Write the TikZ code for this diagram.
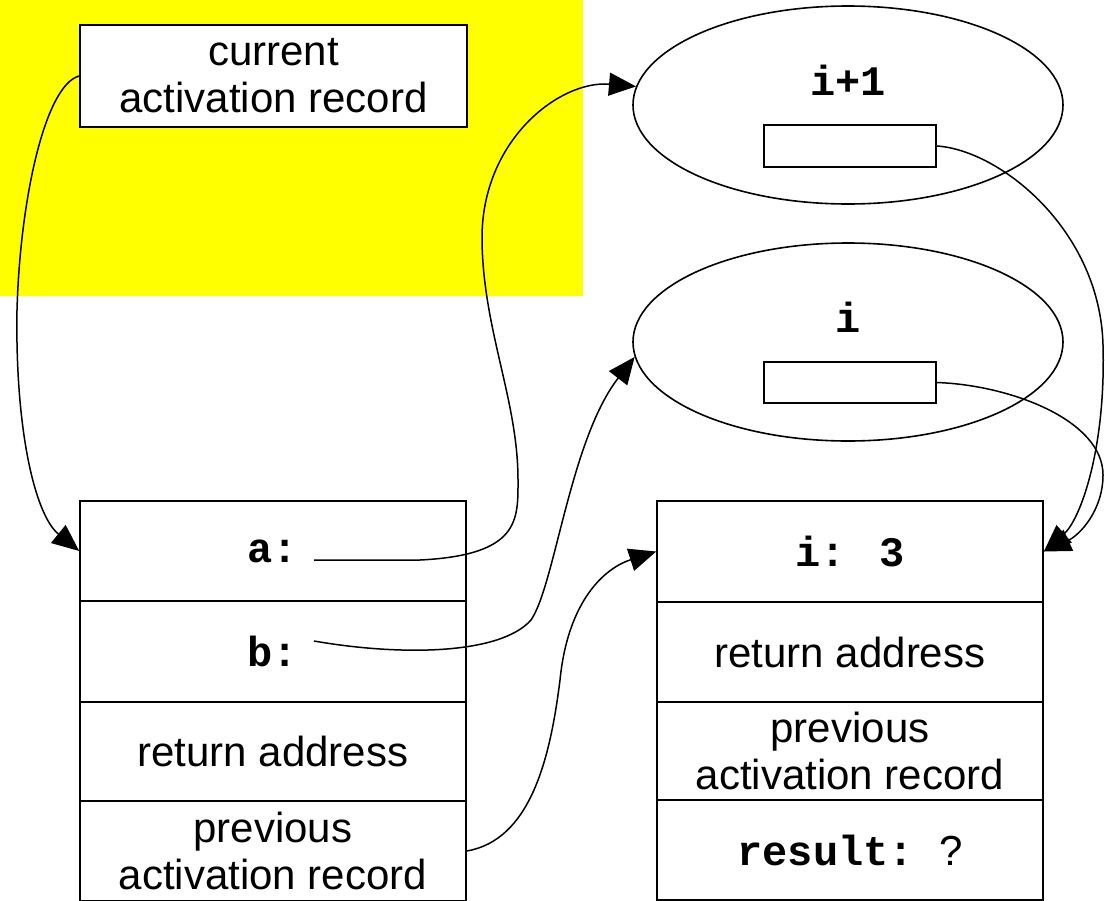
\documentclass[tikz,border=0pt]{standalone}
\usepackage{fontspec}
\setmainfont{Liberation Sans}
\newfontfamily\mono{Liberation Mono}
\usetikzlibrary{arrows.meta,shapes.geometric}
\definecolor{bgyellow}{RGB}{255,255,0}
\tikzset{
  txt/.style={font=\fontsize{42}{47}\selectfont, align=center},
  cell/.style={txt, draw, line width=1.6pt, minimum width=386pt, inner sep=0pt},
  oval/.style={draw, ellipse, line width=1.6pt, minimum width=430pt, minimum height=198pt, inner sep=0pt},
  slot/.style={draw, line width=1.6pt, minimum width=172pt, minimum height=42pt, inner sep=0pt},
  monolab/.style={font=\fontsize{42}{47}\selectfont\mono\bfseries},
  link/.style={line width=1.5pt, -{Triangle[length=27pt,width=23pt]}},
}
\begin{document}
\begin{tikzpicture}[x=1pt,y=-1pt]
\useasboundingbox (0,0) rectangle (1105,900);
\fill[white] (0,0) rectangle (1105,900);
\fill[bgyellow] (0,0) rectangle (583,296);

% current activation record
\node[cell, minimum width=387pt, minimum height=102pt, fill=white] (cur) at (273.5,76) {current\\activation record};

% ellipses
\node[oval] (e1) at (848,105) {};
\node[monolab] (l1) at (848,80) {i+1};
\node[slot] (sb1) at (850,146) {};
\node[oval] (e0) at (848,342) {};
\node[monolab] (l0) at (848,317) {i};
\node[slot, minimum height=41pt] (sb0) at (850,382.5) {};

% left stack
\node[cell, minimum height=100pt] (la) at (273,551) {{\mono\bfseries a:}};
\node[cell, minimum height=101pt] (lb) at (273,651.5) {{\mono\bfseries b:}};
\node[cell, minimum height=99pt] (lr) at (273,751.5) {return address};
\node[cell, minimum height=100pt] (lp) at (273,851) {previous\\activation record};

% right stack
\node[cell, minimum height=101pt] (ri) at (850,551.5) {{\mono\bfseries i: 3}};
\node[cell, minimum height=100pt] (rr) at (850,652) {return address};
\node[cell, minimum height=98pt] (rp) at (850,751) {previous\\activation record};
\node[cell, minimum height=100pt] (rs) at (850,850) {{\mono\bfseries result:\ }?};

\coordinate (pa) at (314,560);
\coordinate (pb) at (314,641);

% connectors
\draw[link] (cur.west) .. controls (45,85) and (20,200) .. (17,310)
  .. controls (15,430) and (35,515) .. (la.west);
\draw[link] (pa) -- (420,560) .. controls (520,555) and (518,520) .. (518,480)
  .. controls (518,400) and (483,330) .. (482,240)
  .. controls (481,140) and (560,80) .. (e1.175);
\draw[link] (pb) .. controls (400,656) and (500,655) .. (531,620)
  .. controls (555,585) and (570,440) .. (e0.184);
\draw[link] (lp.east) .. controls (530,840) and (550,760) .. (560,680)
  .. controls (568,600) and (605,568) .. (ri.west);
\draw[link] (sb1.east) .. controls (1000,150) and (1100,230) .. (1103,345)
  .. controls (1106,450) and (1080,520) .. (ri.east);
\draw[link] (sb0.east) .. controls (1010,385) and (1103,420) .. (1103,475)
  .. controls (1103,510) and (1080,535) .. (ri.east);
\end{tikzpicture}
\end{document}
